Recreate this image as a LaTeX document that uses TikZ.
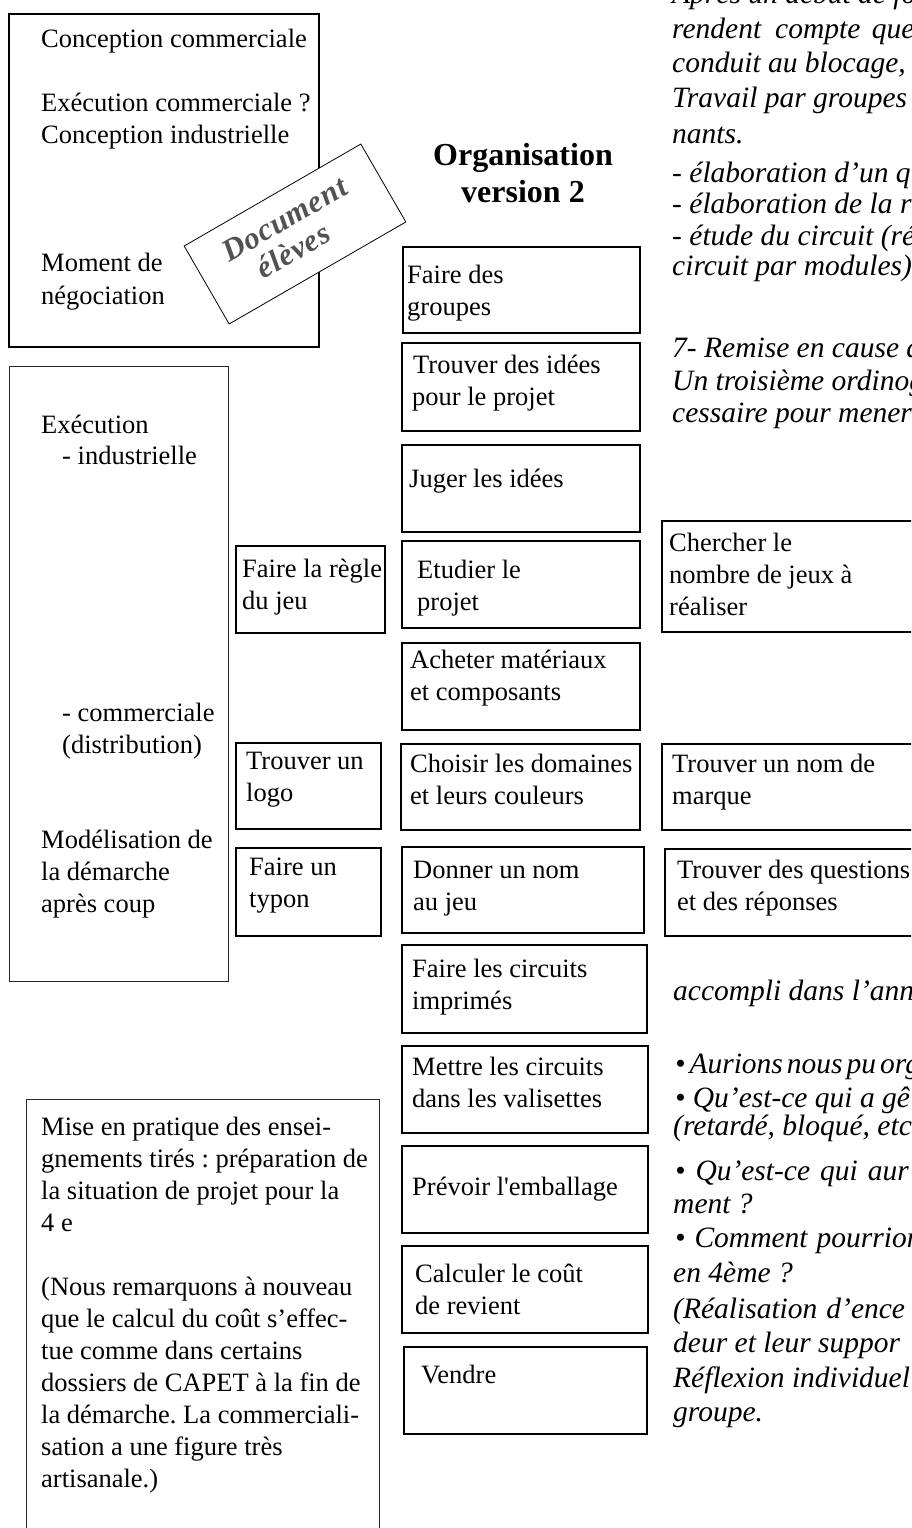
\documentclass[tikz,border=0pt]{standalone}
\usepackage{fontspec}
\setmainfont{Liberation Serif}
\newfontfamily\docfont[LetterSpace=3]{Liberation Serif}
\newfontfamily\rawserif{Liberation Serif}
\newcommand{\mkbox}[6]{\node[#1, minimum width={#4-#2}, minimum height={#5-#3}] (#6) at ({(#2+#4)/2},{(#3+#5)/2}) {};}
\newcommand{\mlns}[1]{\begin{tabular}[t]{@{}l@{}}#1\end{tabular}}
\frenchspacing
\begin{document}
\begin{tikzpicture}[x=1pt,y=-1pt,
  tbox/.style={draw=black, line width=2.2pt, inner sep=0pt, outer sep=0pt},
  nbox/.style={draw=black!85, line width=1pt, inner sep=0pt, outer sep=0pt},
  txt/.style={inner sep=0pt, anchor=base west, font=\fontsize{26.5}{32}\selectfont},
  itx/.style={inner sep=0pt, anchor=base west, font=\fontsize{29.5}{34}\selectfont\itshape},
  ttl/.style={inner sep=0pt, anchor=base, font=\fontsize{32}{37}\selectfont\bfseries},
  docbox/.style={draw=black, fill=white, line width=0.8pt, inner sep=0pt, minimum width=204pt, minimum height=90pt},
  doctxt/.style={inner sep=0pt, anchor=base, text=black!68, font=\docfont\fontsize{31}{34}\selectfont\bfseries\itshape}]
\useasboundingbox (0,0) rectangle (911,1528);
\fill[white] (0,0) rectangle (911,1528);
\clip (0,0) rectangle (911,1528);

% ---- left frames
\mkbox{tbox, line width=2.4pt}{9}{14}{319}{347}{boxA}
\node[txt] (tA) at (41,48) {\mlns{Conception commerciale\\ \\Exécution commerciale ?\\Conception industrielle\\ \\ \\ \\Moment de\\négociation}};

\mkbox{nbox}{9}{366}{228}{981}{boxB}
\node[txt] (tB1) at (41,433) {Exécution};
\node[txt] (tB2) at (62,464) {- industrielle};
\node[txt] (tB3) at (62,721) {\mlns{- commerciale\\(distribution)}};
\node[txt] (tB4) at (41,848) {\mlns{Modélisation de\\la démarche\\après coup}};

\mkbox{nbox}{26}{1099}{379}{1560}{boxC}
\node[txt] (tC) at (41,1135) {\mlns{Mise en pratique des ensei-\\gnements tirés : préparation de\\la situation de projet pour la\\4 e\\ \\(Nous remarquons à nouveau\\que le calcul du coût s’effec-\\tue comme dans certains\\dossiers de CAPET à la fin de\\la démarche. La commerciali-\\sation a une figure très\\artisanale.)}};

% ---- title
\node[ttl] (ttl1) at (523,165) {Organisation};
\node[ttl] (ttl2) at (523,202) {version 2};

% ---- central column
\mkbox{tbox}{403}{247}{640}{333}{c1}
\node[txt] (c1t) at (407,283) {\mlns{Faire des\\groupes}};
\mkbox{tbox}{402}{343}{640}{431}{c2}
\node[txt] (c2t) at (413,373) {\mlns{Trouver des idées\\\hspace{-1pt}pour le projet}};
\mkbox{tbox}{402}{445}{640}{532}{c3}
\node[txt] (c3t) at (409,487) {Juger les idées};
\mkbox{tbox}{402}{541}{640}{628}{c4}
\node[txt] (c4t) at (417,578) {\mlns{Etudier le\\projet}};
\mkbox{tbox}{402}{643}{640}{730}{c5}
\node[txt] (c5t) at (410,668) {\mlns{Acheter matériaux\\et composants}};
\mkbox{tbox}{401}{744}{640}{830}{c6}
\node[txt] (c6t) at (410,772) {\mlns{Choisir les domaines\\et leurs couleurs}};
\mkbox{tbox}{402}{847}{644}{933}{c7}
\node[txt] (c7t) at (413,878) {\mlns{Donner un nom\\au jeu}};
\mkbox{tbox}{402}{945}{647}{1033}{c8}
\node[txt] (c8t) at (412,977) {\mlns{Faire les circuits\\imprimés}};
\mkbox{tbox}{402}{1046}{648}{1133}{c9}
\node[txt] (c9t) at (412,1075) {\mlns{Mettre les circuits\\dans les valisettes}};
\mkbox{tbox}{402}{1146}{648}{1233}{c10}
\node[txt] (c10t) at (412,1195) {Prévoir l{\rawserif'}emballage};
\mkbox{tbox}{402}{1246}{648}{1333}{c11}
\node[txt] (c11t) at (415,1282) {\mlns{Calculer le coût\\de revient}};
\mkbox{tbox}{404}{1347}{647}{1434}{c12}
\node[txt] (c12t) at (421,1383) {Vendre};

% ---- left small boxes
\mkbox{tbox}{236}{546}{385}{633}{l1}
\node[txt] (l1t) at (242,577) {\mlns{Faire la règle\\du jeu}};
\mkbox{tbox}{236}{743}{381}{829}{l2}
\node[txt] (l2t) at (246,769) {\mlns{Trouver un\\logo}};
\mkbox{tbox}{236}{848}{381}{936}{l3}
\node[txt] (l3t) at (249,875) {\mlns{Faire un\\typon}};

% ---- right boxes
\mkbox{tbox}{662}{521}{935}{632}{r1}
\node[txt] (r1t) at (669,551) {\mlns{Chercher le\\nombre de jeux à\\réaliser}};
\mkbox{tbox}{662}{744}{935}{830}{r2}
\node[txt] (r2t) at (672,772) {\mlns{Trouver un nom de\\marque}};
\mkbox{tbox}{665}{849}{935}{936}{r3}
\node[txt] (r3t) at (677,878) {\mlns{Trouver des questions\\et des réponses}};

% ---- italic text on the right
\node[itx] (i1) at (672,4) {Après un début de fo};
\node[itx] (i2) at (672,38) {rendent\hspace{14pt}compte\hspace{4pt} que};
\node[itx] (i3) at (672,72) {conduit au blocage,};
\node[itx] (i4) at (672,107) {Travail par groupes};
\node[itx] (i5) at (672,143) {nants.};
\node[itx] (i6) at (672,182) {- élaboration d’un q};
\node[itx] (i7) at (672,213) {- élaboration de la r};
\node[itx] (i8) at (672,245) {- étude du circuit (ré};
\node[itx] (i9) at (672,275) {circuit par modules)};
\node[itx] (i10) at (672,357) {7- Remise en cause d};
\node[itx] (i11) at (672,390) {Un troisième ordinog};
\node[itx] (i12) at (672,422) {cessaire pour mener};
\node[itx] (i13) at (673,1000) {accompli dans l’ann};
\node[itx] (i14) at (675,1073) {•\hspace{4pt}Aurions\hspace{4pt}nous\hspace{4pt}pu\hspace{4pt}org};
\node[itx] (i15) at (675,1107) {• Qu’est-ce qui a gê};
\node[itx] (i16) at (673,1135) {(retardé, bloqué, etc};
\node[itx] (i17) at (675,1180) {•\hspace{10pt}Qu’est-ce\hspace{10pt}qui\hspace{10pt}aur};
\node[itx] (i18) at (673,1213) {ment ?};
\node[itx] (i19) at (675,1247) {•\hspace{9pt}Comment\hspace{9pt}pourrion};
\node[itx] (i20) at (673,1282) {en 4ème ?};
\node[itx] (i21) at (673,1318) {(Réalisation\hspace{9pt}d’ence};
\node[itx] (i22) at (673,1352) {deur et leur suppor};
\node[itx] (i23) at (673,1387) {Réflexion individuel};
\node[itx] (i24) at (673,1421) {groupe.};

% ---- rotated stamp
\begin{scope}[shift={(295,234)}, rotate=30, transform shape]
  \node[docbox] (doc) at (0,0) {};
  \node[doctxt] (docA) at (-2,-8) {Document};
  \node[doctxt] (docB) at (-10,24) {élèves};
\end{scope}
\end{tikzpicture}
\end{document}
